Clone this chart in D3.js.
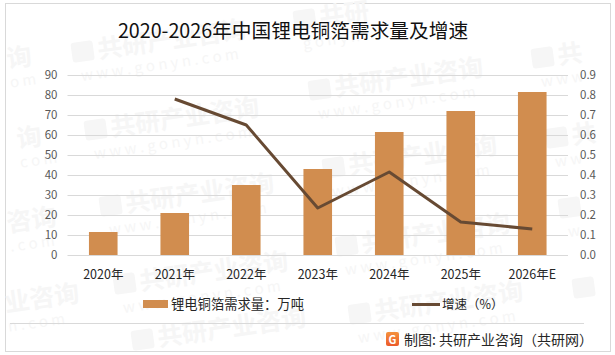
<!DOCTYPE html>
<html>
<head>
<meta charset="utf-8">
<script src="https://cdn.jsdelivr.net/npm/d3@7"></script>
<style>
  html, body { margin: 0; padding: 0; background: #fff; }
  text { font-family: "Noto Sans CJK SC", "Noto Sans", sans-serif; }
</style>
</head>
<body>
<svg id="area" width="615" height="355" style="display:block"></svg>
<script>
const years = ['2020年', '2021年', '2022年', '2023年', '2024年', '2025年', '2026年E'];
const demand = [11.5, 21, 35, 43, 61.5, 72, 81.5];
const growth = [null, 0.78, 0.65, 0.235, 0.415, 0.165, 0.13];
const leftTicks = [0, 10, 20, 30, 40, 50, 60, 70, 80, 90];
const rightTicks = [0, 0.1, 0.2, 0.3, 0.4, 0.5, 0.6, 0.7, 0.8, 0.9];
const titleText = '2020-2026年中国锂电铜箔需求量及增速';
const barName = '锂电铜箔需求量：万吨';
const lineName = '增速（%）';
const sourceText = '制图: 共研产业咨询（共研网）';

// watermark stamps: x, baseline y, logo or not, name, url part
const stampX = [73, 295, 533, 86, 310, 547, 324, 101, 337, 560, 115, 350, 574, 133, 8, 18, 8, 6];
const stampY = [62, 30, 68, 140, 100, 148, 178, 216, 256, 218, 294, 324, 298, 350, 68, 148, 232, 312];
const stampLogo = [1, 1, 1, 1, 1, 1, 1, 1, 1, 1, 1, 1, 1, 1, 0, 0, 0, 0];
const stampName = ['共研产业咨询', '共研', '共', '共研产业咨询', '共研产业咨询', '共', '共研产业咨询', '共研产业咨询',
  '共研产业咨询', '', '共研产业咨询', '共研产业咨询', '', '共研产业咨询', '询', '询', '咨询', '业咨询'];
const fullUrl = 'w w w . g o n y n . c o m';
const stampUrl = [fullUrl, 'g o n y n', 'w w w', fullUrl, fullUrl, 'w w', fullUrl, fullUrl,
  fullUrl, 'w', fullUrl, fullUrl, '', '', 'o m', 'c o m', '. c o m', 'n . c o m'];

const width = 615;
const height = 355;
const margin = { top: 75, bottom: 100, left: 67.5, right: 47 };
const barColor = '#d18d4f';
const lineColor = '#674a33';
const gridColor = '#d9d9d9';
const markColor = '#f6f6f6';

const svg = d3.select('#area');

// frame
svg.append('rect')
  .attr('x', 5.5).attr('y', 3.5)
  .attr('width', 605).attr('height', 348)
  .attr('fill', '#fff')
  .attr('stroke', '#d9d9d9');

// watermark
const marks = svg.selectAll('g.mark')
  .data(stampX)
  .enter().append('g')
  .attr('class', 'mark')
  .attr('transform', (d, i) => `translate(${d}, ${stampY[i]}) rotate(-8)`);
marks.filter((d, i) => stampLogo[i] === 1)
  .append('rect')
  .attr('y', -19)
  .attr('width', 22).attr('height', 20)
  .attr('rx', 3)
  .attr('fill', markColor);
marks.append('text')
  .text((d, i) => stampName[i])
  .attr('x', (d, i) => (stampLogo[i] === 1 ? 26 : 0))
  .attr('font-size', 25)
  .attr('font-weight', 700)
  .attr('fill', markColor);
marks.append('text')
  .text((d, i) => stampUrl[i])
  .attr('x', (d, i) => (stampLogo[i] === 1 ? 6 : 0))
  .attr('y', 20)
  .attr('font-size', 15)
  .attr('fill', markColor);

const x = d3.scaleBand()
  .domain(years)
  .range([margin.left, width - margin.right])
  .paddingInner(0.6)
  .paddingOuter(0.3);
const yLeft = d3.scaleLinear().domain([0, 90]).range([height - margin.bottom, margin.top]);
const yRight = d3.scaleLinear().domain([0, 0.9]).range([height - margin.bottom, margin.top]);

// grid
svg.append('g')
  .selectAll('line')
  .data(leftTicks)
  .enter().append('line')
  .attr('x1', margin.left)
  .attr('x2', width - margin.right)
  .attr('y1', (d) => yLeft(d) + 0.5)
  .attr('y2', (d) => yLeft(d) + 0.5)
  .attr('stroke', gridColor);

// bars
svg.append('g')
  .selectAll('rect')
  .data(demand)
  .enter().append('rect')
  .attr('x', (d, i) => x(years[i]))
  .attr('y', (d) => yLeft(d))
  .attr('width', x.bandwidth())
  .attr('height', (d) => yLeft(0) - yLeft(d))
  .attr('fill', barColor);

// growth line
const line = d3.line()
  .defined((d) => d !== null)
  .x((d, i) => x(years[i]) + x.bandwidth() / 2)
  .y((d) => yRight(d));
svg.append('path')
  .attr('d', line(growth))
  .attr('fill', 'none')
  .attr('stroke', lineColor)
  .attr('stroke-width', 3)
  .attr('stroke-linejoin', 'round');

// axes
const yAxisLeft = d3.axisLeft(yLeft).tickValues(leftTicks).tickSize(0).tickPadding(10);
const yAxisRight = d3.axisRight(yRight).tickValues(rightTicks).tickSize(0).tickPadding(12)
  .tickFormat(d3.format('.1f'));
const xAxis = d3.axisBottom(x).tickSize(0).tickPadding(15);

const styleAxis = (g, color, size) => {
  g.select('.domain').remove();
  g.selectAll('text')
    .attr('font-family', '"Noto Sans CJK SC", "Noto Sans", sans-serif')
    .attr('font-size', size)
    .attr('fill', color);
};
svg.append('g')
  .attr('transform', `translate(${margin.left}, 0)`)
  .call(yAxisLeft)
  .call(styleAxis, '#595959', 11.5);
svg.append('g')
  .attr('transform', `translate(${width - margin.right}, 0)`)
  .call(yAxisRight)
  .call(styleAxis, '#595959', 11.5);
svg.append('g')
  .attr('transform', `translate(0, ${height - margin.bottom})`)
  .call(xAxis)
  .call(styleAxis, '#262626', 12.5);

// title
svg.append('text')
  .attr('x', 293)
  .attr('y', 38)
  .attr('text-anchor', 'middle')
  .attr('font-size', 19.7)
  .attr('fill', '#111')
  .text(titleText);

// legend
svg.append('rect')
  .attr('x', 143).attr('y', 300)
  .attr('width', 25).attr('height', 8)
  .attr('fill', barColor);
svg.append('text')
  .attr('x', 171).attr('y', 309)
  .attr('font-size', 13.3).attr('fill', '#262626')
  .text(barName);
svg.append('line')
  .attr('x1', 412).attr('x2', 440)
  .attr('y1', 304.5).attr('y2', 304.5)
  .attr('stroke', lineColor).attr('stroke-width', 3);
svg.append('text')
  .attr('x', 442).attr('y', 309)
  .attr('font-size', 12.5).attr('fill', '#262626')
  .text(lineName);

// footer
svg.append('line')
  .attr('x1', 10).attr('x2', 584)
  .attr('y1', 323.5).attr('y2', 323.5)
  .attr('stroke', '#d9d9d9');
const logoFill = svg.append('defs').append('linearGradient')
  .attr('id', 'logoFill')
  .attr('x1', 0).attr('y1', 0).attr('x2', 0).attr('y2', 1);
logoFill.append('stop').attr('offset', 0).attr('stop-color', '#f4913c');
logoFill.append('stop').attr('offset', 1).attr('stop-color', '#ec5a2a');
svg.append('rect')
  .attr('x', 386).attr('y', 332)
  .attr('width', 13).attr('height', 14)
  .attr('rx', 2)
  .attr('fill', 'url(#logoFill)');
svg.append('text')
  .attr('x', 392.5).attr('y', 343.5)
  .attr('text-anchor', 'middle')
  .attr('font-size', 11).attr('font-weight', 700).attr('fill', '#fff')
  .text('G');
svg.append('text')
  .attr('x', 404).attr('y', 344.5)
  .attr('font-size', 14).attr('fill', '#262626')
  .text(sourceText);
</script>
</body>
</html>
